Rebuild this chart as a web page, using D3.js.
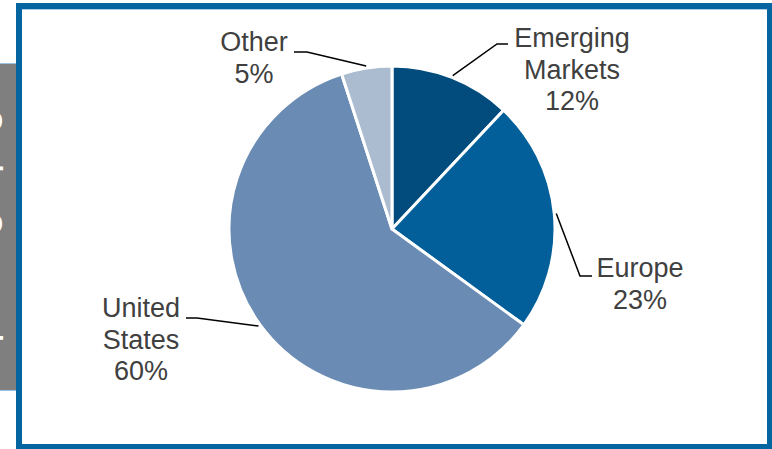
<!DOCTYPE html>
<html>
<head>
<meta charset="utf-8">
<script src="https://cdn.jsdelivr.net/npm/d3@7"></script>
<style>
  html, body { margin: 0; padding: 0; background: #fff; }
  svg { display: block; font-family: "Liberation Sans", Arial, sans-serif; }
</style>
</head>
<body>
<svg width="772" height="449"></svg>
<script>
// slice data, clockwise from 12 o'clock
var regions = ["Emerging Markets", "Europe", "United States", "Other"];
var shares = [12, 23, 60, 5];
var labelLines = [["Emerging", "Markets", "12%"], ["Europe", "23%"], ["United", "States", "60%"], ["Other", "5%"]];

var colors = ["#014c7d", "#025f99", "#6a8bb3", "#abbcd1"];

// where each callout sits (elbow of leader line, text centre / first baseline)
var callout = {
  "Emerging Markets": { elbow: [497, 44], end: [508, 44], tx: 572, ty: 47 },
  "Europe": { elbow: [580, 276], end: [592, 276], tx: 640, ty: 277 },
  "United States": { elbow: [197, 318], end: [186, 318], tx: 141, ty: 317 },
  "Other": { elbow: [307, 52], end: [294, 52], tx: 254, ty: 51 }
};

var svg = d3.select("svg");

// grey side panel behind the frame (its title is mostly hidden)
var side = svg.append("g");
side.append("clipPath").attr("id", "sideclip")
  .append("rect").attr("x", 0).attr("y", 64).attr("width", 17).attr("height", 326);
side.append("rect").attr("x", 0).attr("y", 64).attr("width", 17).attr("height", 326).attr("fill", "#7f7f7f");
side.append("line").attr("x1", 0).attr("x2", 17).attr("y1", 63.5).attr("y2", 63.5).attr("stroke", "#9cc3e5");
side.append("line").attr("x1", 0).attr("x2", 17).attr("y1", 390.5).attr("y2", 390.5).attr("stroke", "#9cc3e5");
side.append("g")
  .attr("clip-path", "url(#sideclip)")
  .append("text")
  .attr("transform", "translate(-17,110) rotate(90)")
  .attr("fill", "#fff")
  .style("font-size", "28px")
  .style("font-weight", "bold")
  .text("Onelan Osumeral");

// frame
svg.append("rect")
  .attr("x", 19).attr("y", 6)
  .attr("width", 751).attr("height", 441)
  .attr("fill", "#fff")
  .attr("stroke", "#0465a1")
  .attr("stroke-width", 6);
svg.append("line").attr("x1", 22).attr("x2", 767).attr("y1", 9.5).attr("y2", 9.5)
  .attr("stroke", "#a9cbe6");

var cx = 392, cy = 229, radius = 163;

var pie = d3.pie().sort(null).value(function (d) { return d; });
var arcs = pie(shares);
var arc = d3.arc().innerRadius(0).outerRadius(radius);
var edge = d3.arc().innerRadius(radius + 2).outerRadius(radius + 2);

var g = svg.append("g").attr("transform", "translate(" + cx + "," + cy + ")");

g.selectAll("path.slice")
  .data(arcs)
  .enter()
  .append("path")
  .attr("class", "slice")
  .attr("d", arc)
  .attr("fill", function (d, i) { return colors[i]; })
  .attr("stroke", "#fff")
  .attr("stroke-width", 3)
  .attr("stroke-linejoin", "round");

// leader lines
svg.selectAll("path.leader")
  .data(arcs)
  .enter()
  .append("path")
  .attr("class", "leader")
  .attr("fill", "none")
  .attr("stroke", "#000")
  .attr("stroke-width", 1.5)
  .attr("d", function (d, i) {
    var c = callout[regions[i]];
    var p = edge.centroid(d);
    return "M" + (cx + p[0]) + "," + (cy + p[1]) +
      "L" + c.elbow[0] + "," + c.elbow[1] +
      "L" + c.end[0] + "," + c.end[1];
  });

// labels
var labels = svg.selectAll("text.lab")
  .data(arcs)
  .enter()
  .append("text")
  .attr("class", "lab")
  .attr("fill", "#404040")
  .attr("text-anchor", "middle")
  .style("font-size", "27px")
  .attr("transform", function (d, i) {
    var c = callout[regions[i]];
    return "translate(" + c.tx + "," + c.ty + ")";
  });

labels.selectAll("tspan")
  .data(function (d, i) { return labelLines[i]; })
  .enter()
  .append("tspan")
  .attr("x", 0)
  .attr("y", function (d, j) { return j * 31.5; })
  .text(function (d) { return d; });
</script>
</body>
</html>
